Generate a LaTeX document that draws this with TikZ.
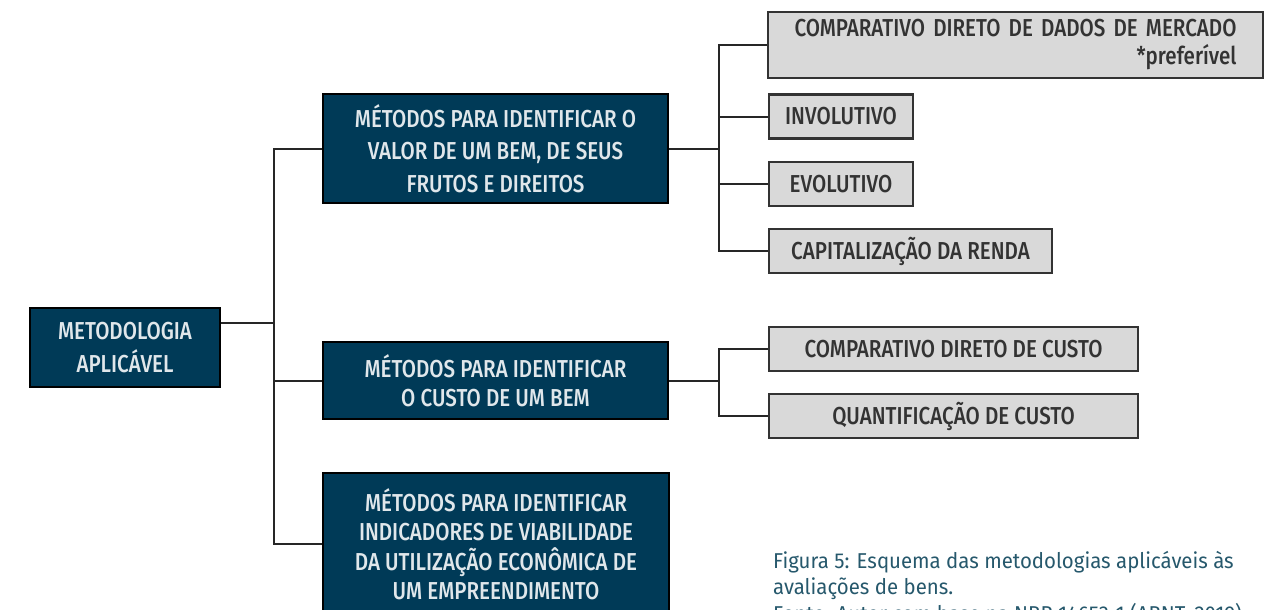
\documentclass[tikz,border=0pt]{standalone}
\usepackage{fontspec}
\setmainfont{Fira Sans Medium}[FakeStretch=0.84]
\newfontfamily\captionfont{Fira Sans}[FakeStretch=0.95]
\definecolor{navy}{RGB}{0,58,87}
\definecolor{boxgray}{RGB}{217,217,217}
\definecolor{captionteal}{RGB}{38,88,108}
\tikzset{
  darkbox/.style={shape=rectangle,draw=black,line width=2.5pt,fill=navy,text=white!88!navy,align=center,inner sep=0pt,font=\fontsize{24.5}{31}\selectfont},
  lightbox/.style={shape=rectangle,draw=black!80,line width=2.5pt,fill=boxgray,text=black!80,align=center,inner sep=0pt,minimum height=44pt,font=\fontsize{24.5}{28}\selectfont},
  link/.style={line width=2pt,draw=black!85}
}
\begin{document}
\begin{tikzpicture}[x=1pt,y=-1pt]
\useasboundingbox (0,0) rectangle (1269,610);
% main boxes
\node[darkbox,minimum width=190pt,minimum height=79pt,font=\fontsize{24.5}{33}\selectfont] (root) at (125,347.5) {METODOLOGIA\\APLICÁVEL};
\node[darkbox,minimum width=345pt,minimum height=109pt,font=\fontsize{24.5}{32.5}\selectfont] (valor) at (495.5,148.5) {MÉTODOS PARA IDENTIFICAR O\\VALOR DE UM BEM, DE SEUS\\FRUTOS E DIREITOS};
\node[darkbox,minimum width=345pt,minimum height=77pt,font=\fontsize{24.5}{29}\selectfont] (custo) at (495.5,380.5) {MÉTODOS PARA IDENTIFICAR\\O CUSTO DE UM BEM};
\node[darkbox,minimum width=346pt,minimum height=142pt,font=\fontsize{24.5}{29.5}\selectfont] (viab) at (496,544) {MÉTODOS PARA IDENTIFICAR\\INDICADORES DE VIABILIDADE\\DA UTILIZAÇÃO ECONÔMICA DE\\UM EMPREENDIMENTO};
% methods
\node[lightbox,minimum width=495pt,minimum height=66pt,text width=442pt,align=right] (mercado) at (1015.5,45) {COMPARATIVO DIRETO DE DADOS DE MERCADO\\{*}preferível};
\node[lightbox,minimum width=144pt] (invol) at (841,116.5) {INVOLUTIVO};
\node[lightbox,minimum width=144pt] (evol) at (841,184) {EVOLUTIVO};
\node[lightbox,minimum width=283pt] (renda) at (910.5,251) {CAPITALIZAÇÃO DA RENDA};
\node[lightbox,minimum width=369pt] (dircusto) at (953.5,349) {COMPARATIVO DIRETO DE CUSTO};
\node[lightbox,minimum width=369pt] (quant) at (953.5,416) {QUANTIFICAÇÃO DE CUSTO};
% junctions
\coordinate (t0) at (274,323);
\coordinate (t1) at (719,148.5);
\coordinate (t2) at (719,380.5);
% connectors
\draw[link] (t0 -| root.east) -- (t0);
\draw[link] (valor.west) -| (t0) |- (viab.west);
\draw[link] (t0 |- custo.west) -- (custo.west);
\draw[link] (valor.east) -- (t1);
\draw[link] (mercado.west) -| (t1) |- (renda.west);
\draw[link] (t1 |- invol.west) -- (invol.west);
\draw[link] (t1 |- evol.west) -- (evol.west);
\draw[link] (custo.east) -- (t2);
\draw[link] (dircusto.west) -| (t2) |- (quant.west);
% caption
\node[anchor=base west,inner sep=0pt,align=left,text=captionteal,font=\captionfont\fontsize{21.5}{26.5}\selectfont] (legenda) at (773,621) {Figura 5: Esquema das metodologias aplicáveis às\\avaliações de bens.\\Fonte: Autor com base na NBR 14653-1 (ABNT, 2019).};
\end{tikzpicture}
\end{document}
